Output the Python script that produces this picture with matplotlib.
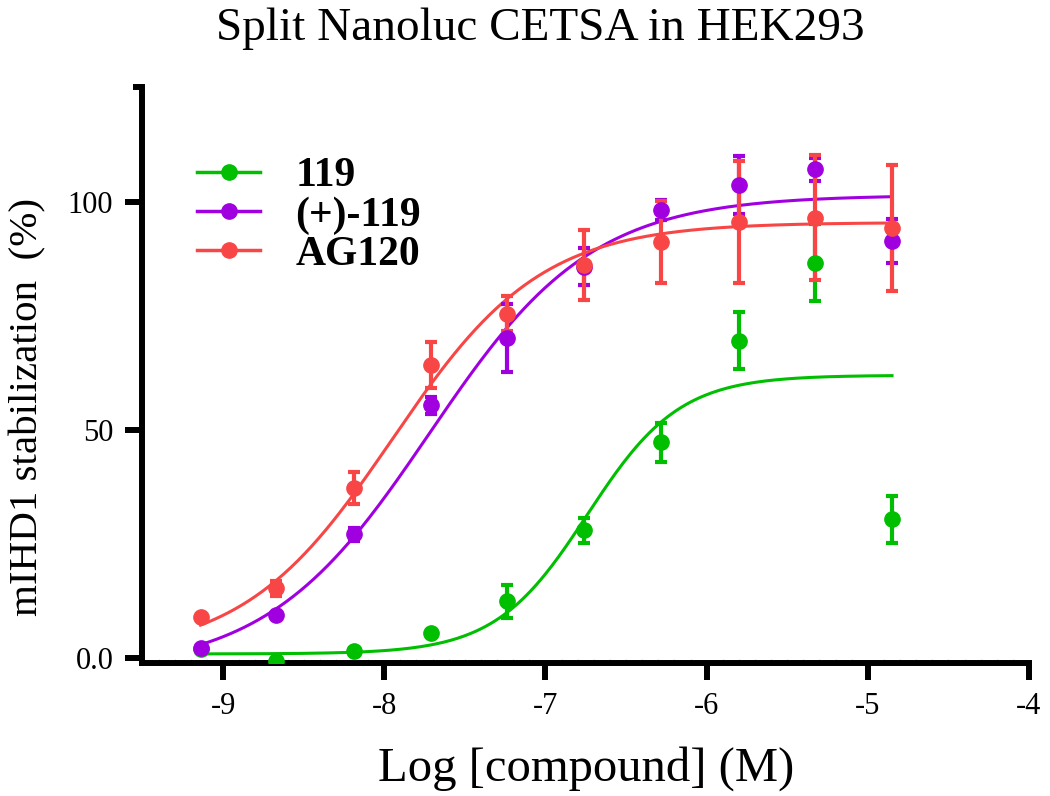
import matplotlib
matplotlib.use("Agg")
import matplotlib.pyplot as plt
from matplotlib.lines import Line2D
from matplotlib.ticker import FixedLocator, MultipleLocator
import numpy as np

plt.rcParams["font.family"] = ["Liberation Serif", "DejaVu Serif"]

# log concentrations (M)
log_conc = [-9.14, -8.67, -8.19, -7.71, -7.24, -6.76, -6.28, -5.80, -5.33, -4.85]

names = ["119", "(+)-119", "AG120"]
colors = ["#00BE00", "#A000E0", "#F84646"]

y_119 = [2.0, -0.6, 1.5, 5.4, 12.4, 28.0, 47.3, 69.6, 86.7, 30.4]
e_119 = [0.4, 0.5, 0.5, 0.5, 3.6, 2.7, 4.3, 6.2, 8.5, 5.2]

y_plus = [2.2, 9.4, 27.1, 55.4, 70.2, 85.8, 98.2, 103.7, 107.2, 91.5]
e_plus = [0.4, 0.5, 1.5, 1.8, 7.4, 4.0, 2.2, 6.3, 2.5, 4.8]

y_ag = [9.0, 15.3, 37.2, 64.3, 75.5, 86.2, 91.2, 95.6, 96.5, 94.3]
e_ag = [0.5, 1.7, 3.5, 5.1, 3.9, 7.7, 9.0, 13.4, 13.7, 13.9]

# fitted 4PL parameters: bottom, top, logEC50, hill
fit_119 = [0.9, 62.0, -6.74, 1.52]
fit_plus = [-3.0, 101.5, -7.72, 0.86]
fit_ag = [0.5, 95.5, -7.95, 0.94]

series = [(y_119, e_119, fit_119), (y_plus, e_plus, fit_plus), (y_ag, e_ag, fit_ag)]


def four_pl(x, p):
    bottom, top, ec, hill = p
    return bottom + (top - bottom) / (1 + 10 ** ((ec - x) * hill))


fig = plt.figure(figsize=(10.5, 7.96), dpi=100)
ax = fig.add_axes([0.1357, 0.167, 0.8443, 0.7237])

xs = np.linspace(log_conc[0], log_conc[-1], 300)
for (yv, ev, fit), col in zip(series, colors):
    ax.plot(xs, four_pl(xs, fit), color=col, lw=2.2, zorder=3)
    ax.errorbar(log_conc, yv, yerr=ev, fmt="o", color=col, ms=11,
                elinewidth=3, capsize=4.3, capthick=3, zorder=4)

ax.set_xlim(-9.5, -4)
ax.set_ylim(-1.1, 125.2)
for s in ["top", "right"]:
    ax.spines[s].set_visible(False)
for s in ["left", "bottom"]:
    ax.spines[s].set_linewidth(4.3)
    ax.spines[s].set_capstyle("projecting")

ax.set_xticks([-9, -8, -7, -6, -5, -4])
ax.set_xticklabels(["-9", "-8", "-7", "-6", "-5", "-4"])
ax.set_yticks([0, 50, 100])
ax.set_yticklabels(["0.0", "50", "100"])
ax.tick_params(axis="both", which="major", length=12, width=4.3,
               labelsize=22, pad=9)
ax.xaxis.set_minor_locator(MultipleLocator(0.1))
ax.tick_params(axis="x", which="minor", direction="in", length=3,
               width=0.8, color="#d0d0d0")
ax.yaxis.set_minor_locator(FixedLocator([125.2]))
ax.tick_params(axis="y", which="minor", length=6.5, width=4.3, color="black")

ax.set_xlabel("Log [compound] (M)", fontsize=35, labelpad=18)
fig.text(0.027, 0.489, "mIHD1 stabilization  (%)", rotation=90,
         fontsize=29.5, ha="center", va="center")
fig.text(0.515, 0.964, "Split Nanoluc CETSA in HEK293", fontsize=34,
         ha="center", va="center")

handles = [Line2D([], [], color=c, lw=2.5, marker="o", ms=11) for c in colors]
ax.legend(handles, names, loc="upper left", bbox_to_anchor=(0.043, 0.907),
          frameon=False, prop={"weight": "bold", "size": 30},
          handlelength=1.5, handletextpad=0.85, labelspacing=0.02,
          borderaxespad=0)

fig.savefig("out.png", dpi=100)
